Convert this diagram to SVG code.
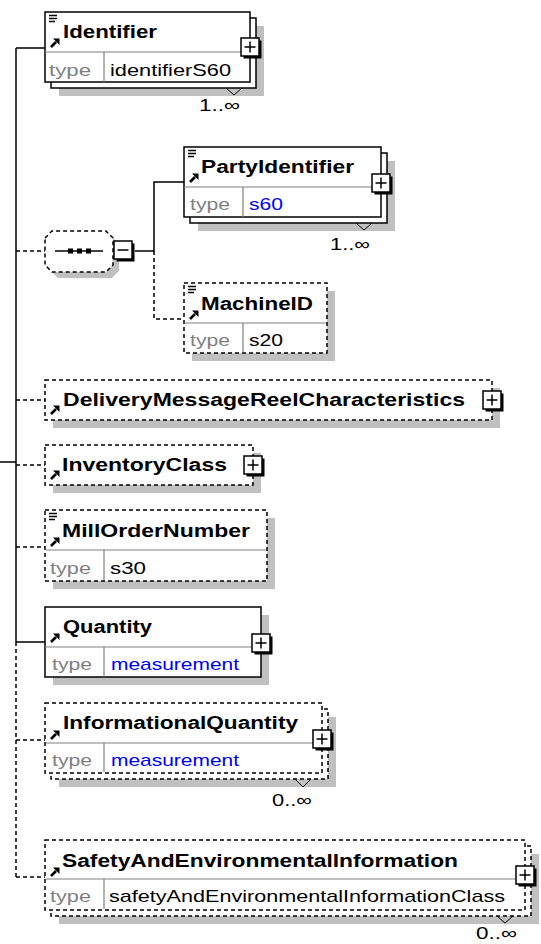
<svg xmlns="http://www.w3.org/2000/svg" width="541" height="944" viewBox="0 0 541 944">
<style>
.bx{fill:#fff;stroke:#000;stroke-width:1.5}
.opt{stroke-dasharray:4 3}
.sh{fill:#c0c0c0}
.dv{stroke:#808080;stroke-width:1.2;fill:none}
.nm{font-family:"Liberation Sans",Arial,sans-serif;font-weight:bold;font-size:18px;fill:#000}
.ty{font-family:"Liberation Sans",Arial,sans-serif;font-size:17px;fill:#808080}
.tv{font-family:"Liberation Sans",Arial,sans-serif;font-size:17px;fill:#000}
.bl{fill:#0000ff}
.mu{font-family:"Liberation Sans",Arial,sans-serif;font-size:17px;fill:#000}
.ln{stroke:#000;stroke-width:1.5;fill:none}
.dl{stroke:#000;stroke-width:1.5;fill:none;stroke-dasharray:4 3}
.nt{stroke:#000;stroke-width:1;fill:none}
</style>
<defs>
<g id="plus"><rect x="2.5" y="2.5" width="18" height="18" fill="#000"/><rect x="0" y="0" width="18" height="18" fill="#fff" stroke="#000" stroke-width="1.5"/><path d="M3.5,9H14.5M9,3.5V14.5" stroke="#000" stroke-width="1.5"/></g>
<g id="minus"><rect x="2.5" y="2.5" width="18" height="18" fill="#000"/><rect x="0" y="0" width="18" height="18" fill="#fff" stroke="#000" stroke-width="1.5"/><path d="M3.5,9H14.5" stroke="#000" stroke-width="1.5"/></g>
<g id="arr"><path d="M1,9L6,4" stroke="#000" stroke-width="2.6"/><polygon points="3,0.5 9.5,0.5 9.5,7" fill="#000"/></g>
<g id="doc"><path d="M0,0.5H8M0,3.5H8M0,6.5H6" stroke="#000" stroke-width="1.3"/></g>
</defs>

<g id="connectors">
<path class="ln" d="M0,462H16M16,48V642M16,48H45M16,642H45"/>
<path class="dl" d="M16,642V877M16,251H45M16,400H45M16,465H45M16,547H45M16,740H45M16,877H45"/>
<path class="ln" d="M135,251H154V182H184"/>
<path class="dl" d="M154,251V319H184"/>
</g>

<g id="identifier">
<rect class="sh" x="59" y="26" width="205" height="70"/>
<rect class="bx" x="51" y="18" width="205" height="70"/>
<rect class="bx" x="45" y="12" width="205" height="70"/>
<path class="dv" d="M45,52H250M104,52V82"/>
<use href="#doc" x="49" y="15"/>
<use href="#arr" x="50" y="38"/>
<text class="nm" x="63" y="38" textLength="94" lengthAdjust="spacingAndGlyphs">Identifier</text>
<text class="ty" x="49" y="76" textLength="42" lengthAdjust="spacingAndGlyphs">type</text>
<text class="tv" x="110" y="76" textLength="121" lengthAdjust="spacingAndGlyphs">identifierS60</text>
<use href="#plus" x="241" y="38"/>
<polyline class="nt" points="226,88 234,95 242,88"/>
<text class="mu" x="199" y="111" textLength="41" lengthAdjust="spacingAndGlyphs">1..∞</text>
</g>

<g id="sequence">
<polygon class="sh" points="51,244 58,237 112,237 119,244 119,271 112,278 58,278 51,271"/>
<polygon class="bx opt" points="45,238 52,231 106,231 113,238 113,265 106,272 52,272 45,265"/>
<path class="ln" d="M55,251H103"/>
<rect x="68" y="248.5" width="5" height="5" fill="#000"/>
<rect x="77" y="248.5" width="5" height="5" fill="#000"/>
<rect x="86" y="248.5" width="5" height="5" fill="#000"/>
<use href="#minus" x="114" y="241"/>
</g>

<g id="partyIdentifier">
<rect class="sh" x="198" y="161" width="197" height="70"/>
<rect class="bx" x="190" y="153" width="197" height="70"/>
<rect class="bx" x="184" y="147" width="197" height="70"/>
<path class="dv" d="M184,187H381M243,187V217"/>
<use href="#doc" x="188" y="150"/>
<use href="#arr" x="189" y="173"/>
<text class="nm" x="201" y="173" textLength="153" lengthAdjust="spacingAndGlyphs">PartyIdentifier</text>
<text class="ty" x="190" y="210" textLength="40" lengthAdjust="spacingAndGlyphs">type</text>
<text class="tv bl" x="249" y="210" textLength="34" lengthAdjust="spacingAndGlyphs">s60</text>
<use href="#plus" x="372" y="174"/>
<polyline class="nt" points="356,223 364,230 372,223"/>
<text class="mu" x="330" y="250" textLength="40" lengthAdjust="spacingAndGlyphs">1..∞</text>
</g>

<g id="machineID">
<rect class="sh" x="192" y="291" width="143" height="70"/>
<rect class="bx opt" x="184" y="283" width="143" height="70"/>
<path class="dv" d="M185,323H326M243,323V352"/>
<use href="#doc" x="188" y="286"/>
<use href="#arr" x="189" y="310"/>
<text class="nm" x="201" y="310" textLength="112" lengthAdjust="spacingAndGlyphs">MachineID</text>
<text class="ty" x="190" y="346" textLength="40" lengthAdjust="spacingAndGlyphs">type</text>
<text class="tv" x="249" y="346" textLength="34" lengthAdjust="spacingAndGlyphs">s20</text>
</g>

<g id="deliveryMessageReelCharacteristics">
<rect class="sh" x="53" y="388" width="447" height="40"/>
<rect class="bx opt" x="45" y="380" width="447" height="40"/>
<use href="#arr" x="50" y="405"/>
<text class="nm" x="63" y="406" textLength="402" lengthAdjust="spacingAndGlyphs">DeliveryMessageReelCharacteristics</text>
<use href="#plus" x="483" y="391"/>
</g>

<g id="inventoryClass">
<rect class="sh" x="53" y="453" width="208" height="40"/>
<rect class="bx opt" x="45" y="445" width="208" height="40"/>
<use href="#arr" x="50" y="470"/>
<text class="nm" x="62" y="471" textLength="165" lengthAdjust="spacingAndGlyphs">InventoryClass</text>
<use href="#plus" x="244" y="456"/>
</g>

<g id="millOrderNumber">
<rect class="sh" x="53" y="518" width="222" height="71"/>
<rect class="bx opt" x="45" y="510" width="222" height="71"/>
<path class="dv" d="M46,550H266M104,550V580"/>
<use href="#doc" x="49" y="513"/>
<use href="#arr" x="50" y="537"/>
<text class="nm" x="62" y="537" textLength="188" lengthAdjust="spacingAndGlyphs">MillOrderNumber</text>
<text class="ty" x="50" y="574" textLength="41" lengthAdjust="spacingAndGlyphs">type</text>
<text class="tv" x="110" y="574" textLength="36" lengthAdjust="spacingAndGlyphs">s30</text>
</g>

<g id="quantity">
<rect class="sh" x="53" y="615" width="216" height="70"/>
<rect class="bx" x="45" y="607" width="216" height="70"/>
<path class="dv" d="M45,647H261M104,647V677"/>
<use href="#arr" x="50" y="633"/>
<text class="nm" x="63" y="633" textLength="89" lengthAdjust="spacingAndGlyphs">Quantity</text>
<text class="ty" x="52" y="670" textLength="40" lengthAdjust="spacingAndGlyphs">type</text>
<text class="tv bl" x="111" y="670" textLength="128" lengthAdjust="spacingAndGlyphs">measurement</text>
<use href="#plus" x="252" y="634"/>
</g>

<g id="informationalQuantity">
<rect class="sh" x="59" y="717" width="277" height="70"/>
<rect class="bx opt" x="51" y="709" width="277" height="70"/>
<rect class="bx opt" x="45" y="703" width="277" height="70"/>
<path class="dv" d="M46,743H321M104,743V772"/>
<use href="#arr" x="50" y="730"/>
<text class="nm" x="63" y="729" textLength="235" lengthAdjust="spacingAndGlyphs">InformationalQuantity</text>
<text class="ty" x="52" y="766" textLength="40" lengthAdjust="spacingAndGlyphs">type</text>
<text class="tv bl" x="111" y="766" textLength="128" lengthAdjust="spacingAndGlyphs">measurement</text>
<use href="#plus" x="313" y="730"/>
<polyline class="nt" points="295,779 303,787 311,779"/>
<text class="mu" x="272" y="806" textLength="40" lengthAdjust="spacingAndGlyphs">0..∞</text>
</g>

<g id="safetyAndEnvironmentalInformation">
<rect class="sh" x="59" y="854" width="480" height="70"/>
<rect class="bx opt" x="51" y="846" width="480" height="70"/>
<rect class="bx opt" x="45" y="840" width="480" height="70"/>
<path class="dv" d="M46,879H524M104,879V909"/>
<use href="#arr" x="50" y="867"/>
<text class="nm" x="62" y="867" textLength="396" lengthAdjust="spacingAndGlyphs">SafetyAndEnvironmentalInformation</text>
<text class="ty" x="50" y="902" textLength="41" lengthAdjust="spacingAndGlyphs">type</text>
<text class="tv" x="109" y="902" textLength="396" lengthAdjust="spacingAndGlyphs">safetyAndEnvironmentalInformationClass</text>
<use href="#plus" x="516" y="866"/>
<polyline class="nt" points="497,916 505,923 513,916"/>
<text class="mu" x="476" y="939" textLength="41" lengthAdjust="spacingAndGlyphs">0..∞</text>
</g>
</svg>
